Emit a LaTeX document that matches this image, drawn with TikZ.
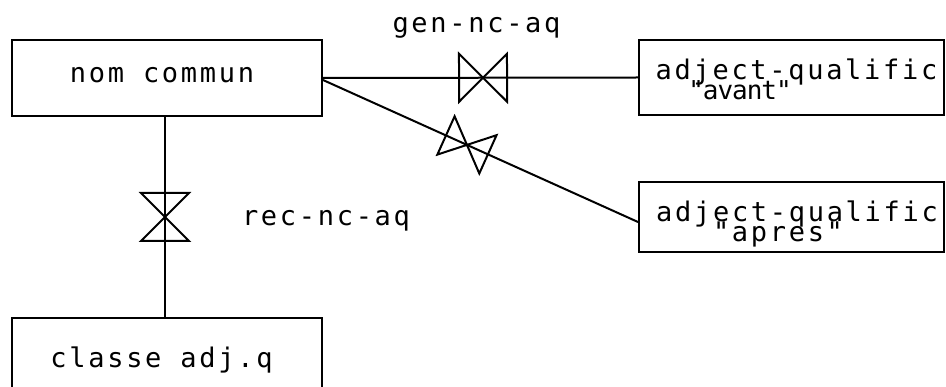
\documentclass[tikz,border=0pt]{standalone}
\usepackage{fontspec}
\setmonofont{DejaVu Sans Mono}
\newfontfamily\plotfontA[LetterSpace=10]{DejaVu Sans Mono}
\newfontfamily\plotfontB[LetterSpace=-4]{DejaVu Sans Mono}
\newcommand\pfwide{\plotfontA\fontsize{27}{30}\selectfont}
\newcommand\pfnarrow{\plotfontB\fontsize{26}{30}\selectfont}
\tikzset{
  pics/bowtie/.style 2 args={code={
    \draw[line width=2pt, line join=miter] (-#1,-#2) -- (-#1,#2) -- (#1,-#2) -- (#1,#2) -- cycle;
  }},
}
\begin{document}
\begin{tikzpicture}[x=1pt,y=-1pt,
  box/.style={draw, rectangle, inner sep=0pt, line width=2pt},
  lbl/.style={font=\pfwide, inner sep=0pt, anchor=base},
  link/.style={line width=2pt}]
\useasboundingbox (0,0) rectangle (946,387);
\clip (0,0) rectangle (946,387);
\fill[white] (0,0) rectangle (946,387);

\node[box, minimum width=310pt, minimum height=76pt] (nc) at (167,78) {};
\node[box, minimum width=305pt, minimum height=75pt] (av) at (791.5,77.5) {};
\node[box, minimum width=305pt, minimum height=70pt] (ap) at (791.5,217) {};
\node[box, minimum width=310pt, minimum height=100pt] (cl) at (167,368) {};

\node[lbl] (tnc) at (162,83) {nom commun};
\node[lbl] (tgen) at (476.5,33) {gen-nc-aq};
\node[lbl] (trec) at (326,226) {rec-nc-aq};
\node[lbl] (tcl) at (161.5,368) {classe adj.q};
\node[lbl] (tav1) at (796.5,80) {adject-qualific};
\node[lbl, font=\pfnarrow] (tav2) at (740,100) {"avant"};
\node[lbl] (tap1) at (797,222) {adject-qualific};
\node[lbl] (tap2) at (778,242) {"apres"};

\draw[link] (nc.east) -- (av.west) pic[pos=0.508, sloped]{bowtie={24}{24}};
\draw[link] ([yshift=-2pt]nc.east) -- ([yshift=-5pt]ap.west) pic[pos=0.457, sloped]{bowtie={23}{21}};
\draw[link] ([xshift=-2pt]nc.south) -- ([xshift=-2pt]cl.north) pic[pos=0.5, sloped]{bowtie={24}{24}};
\end{tikzpicture}
\end{document}
